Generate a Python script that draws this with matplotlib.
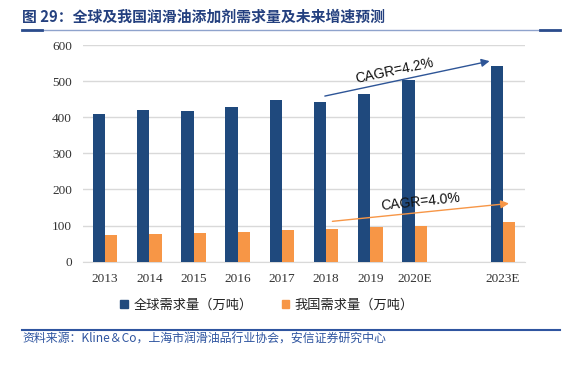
import matplotlib
matplotlib.use("Agg")
import matplotlib.pyplot as plt
from matplotlib.patches import Patch
from matplotlib.lines import Line2D
import numpy as np

plt.rcParams['font.family'] = ['Noto Sans CJK SC', 'DejaVu Sans']

years = ['2013', '2014', '2015', '2016', '2017', '2018', '2019', '2020E', '2023E']
x_pos = [0, 1, 2, 3, 4, 5, 6, 7, 9]
global_demand = [409, 419, 416, 429, 449, 441, 464, 503, 543]
china_demand = [74, 77, 80, 83, 87, 91, 95, 100, 111]
series_names = ['全球需求量（万吨）', '我国需求量（万吨）']
title = '图 29：全球及我国润滑油添加剂需求量及未来增速预测'
source = '资料来源：Kline＆Co，上海市润滑油品行业协会，安信证券研究中心'
cagr_labels = ['CAGR=4.2%', 'CAGR=4.0%']

BLUE = '#1F497D'
ORANGE = '#F79646'

fig = plt.figure(figsize=(5.68, 3.65), dpi=100)
ax = fig.add_axes([83/568, 1-261.7/365, (525-83)/568, (261.7-45)/365])

x = np.array(x_pos, dtype=float)
w = 0.28
ax.bar(x - w/2, global_demand, width=w, color=BLUE, zorder=3)
ax.bar(x + w/2, china_demand, width=w, color=ORANGE, zorder=3)

ax.set_xlim(-0.5, 9.5)
ax.set_ylim(0, 600)
ax.set_yticks(range(0, 601, 100))
ax.set_xticks(x)
ax.set_xticklabels(years)
ax.grid(axis='y', color='#D9D9D9', lw=1, zorder=0)
ax.set_axisbelow(True)
for s in ['top', 'right', 'left']:
    ax.spines[s].set_visible(False)
ax.spines['bottom'].set_color('#D9D9D9')
ax.tick_params(length=0, pad=8, colors='#333333')
for lab in ax.get_xticklabels() + ax.get_yticklabels():
    lab.set_fontfamily('Liberation Serif')
    lab.set_fontsize(9.5)

# CAGR arrows
ax.annotate('', xy=(8.76, 557), xytext=(4.91, 457),
            arrowprops=dict(arrowstyle='-|>', color='#2E5597', lw=1, mutation_scale=12), zorder=5)
ax.annotate('', xy=(9.2, 162), xytext=(5.08, 111),
            arrowprops=dict(arrowstyle='-|>', color=ORANGE, lw=1, mutation_scale=12), zorder=5)
ax.text(6.55, 529, cagr_labels[0], rotation=12, ha='center', va='center',
        rotation_mode='anchor', fontsize=10, family='Liberation Sans', color='#111111')
ax.text(7.14, 166, cagr_labels[1], rotation=6, ha='center', va='center',
        rotation_mode='anchor', fontsize=10, family='Liberation Sans', color='#111111')

# legend
handles = [Patch(color=BLUE), Patch(color=ORANGE)]
fig.legend(handles, series_names, loc='center', bbox_to_anchor=(267/568, 1-305/365),
           ncol=2, frameon=False, fontsize=9.5, handlelength=0.6, handleheight=0.6,
           handletextpad=0.4, columnspacing=2.2, labelcolor='#222222')

# title and decorative lines
fig.text(22/568, 1-17/365, title, fontsize=10.7, fontweight='bold', color='#24407F',
         ha='left', va='center')
fig.add_artist(Line2D([22/568, 560/568], [1-30.3/365]*2, color='#8FA3CC', lw=1))
fig.add_artist(Line2D([22/568, 42/568], [1-30.3/365]*2, color='#2B4C8C', lw=2))
fig.add_artist(Line2D([540/568, 560/568], [1-30.3/365]*2, color='#2B4C8C', lw=2))

# source
fig.add_artist(Line2D([22/568, 560/568], [1-329.5/365]*2, color='#2F55A0', lw=1.5))
fig.text(22/568, 1-339.5/365, source, fontsize=8.6, style='italic', color='#2F55A0',
         ha='left', va='center')

fig.savefig('out.png', dpi=100)
